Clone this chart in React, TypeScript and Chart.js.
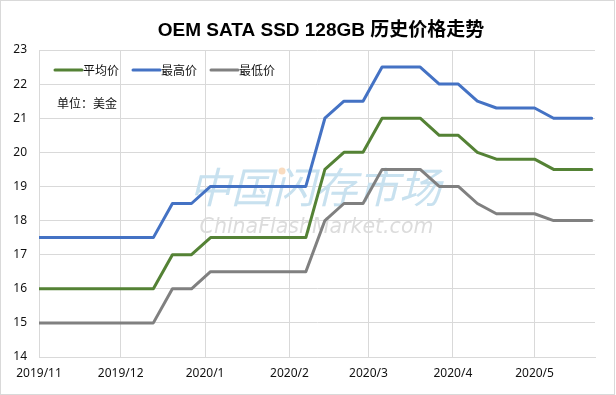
import React, { useEffect, useRef } from 'react';
import { Chart, registerables } from 'chart.js';

Chart.register(...registerables);

const title = 'OEM SATA SSD 128GB 历史价格走势';
const unitText = '单位：美金';
const watermarkCN = '中国闪存市场';
const watermarkEN = 'ChinaFlashMarket.com';

const dates = [
  '2019-11-01', '2019-11-08', '2019-11-15', '2019-11-22', '2019-11-29',
  '2019-12-06', '2019-12-13', '2019-12-20', '2019-12-27',
  '2020-01-03', '2020-01-10', '2020-01-17', '2020-01-24', '2020-01-31',
  '2020-02-07', '2020-02-14', '2020-02-21', '2020-02-28',
  '2020-03-06', '2020-03-13', '2020-03-20', '2020-03-27',
  '2020-04-03', '2020-04-10', '2020-04-17', '2020-04-24',
  '2020-05-01', '2020-05-08', '2020-05-15', '2020-05-22',
];

const avgPrice = [
  16, 16, 16, 16, 16, 16, 16, 17, 17,
  17.5, 17.5, 17.5, 17.5, 17.5, 17.5, 19.5, 20, 20,
  21, 21, 21, 20.5, 20.5, 20, 19.8, 19.8, 19.8, 19.5, 19.5, 19.5,
];
const maxPrice = [
  17.5, 17.5, 17.5, 17.5, 17.5, 17.5, 17.5, 18.5, 18.5,
  19, 19, 19, 19, 19, 19, 21, 21.5, 21.5,
  22.5, 22.5, 22.5, 22, 22, 21.5, 21.3, 21.3, 21.3, 21, 21, 21,
];
const minPrice = [
  15, 15, 15, 15, 15, 15, 15, 16, 16,
  16.5, 16.5, 16.5, 16.5, 16.5, 16.5, 18, 18.5, 18.5,
  19.5, 19.5, 19.5, 19, 19, 18.5, 18.2, 18.2, 18.2, 18, 18, 18,
];

const seriesNames = ['平均价', '最高价', '最低价'];
const seriesColors = ['#548235', '#4472c4', '#808080'];

const monthTickDates = ['2019-11-01', '2019-12-01', '2020-01-01', '2020-02-01', '2020-03-01', '2020-04-01', '2020-05-01'];
const monthTickLabels = ['2019/11', '2019/12', '2020/1', '2020/2', '2020/3', '2020/4', '2020/5'];
const axisEndDate = '2020-05-23';
const yMin = 14;
const yMax = 23;

const DAY = 86400000;
const ORIGIN = Date.UTC(2019, 10, 1);
const dayOf = (s: string) => {
  const [y, m, d] = s.split('-').map(Number);
  return Math.round((Date.UTC(y, m - 1, d) - ORIGIN) / DAY);
};

const CJK = '"Noto Sans CJK SC"';
const GRID = '#d9d9d9';
const TEXT = '#111111';

const decorPlugin = {
  id: 'decor',
  beforeDraw(chart: any) {
    const ctx = chart.ctx;
    ctx.save();
    ctx.fillStyle = '#ffffff';
    ctx.fillRect(0, 0, chart.width, chart.height);
    ctx.strokeStyle = GRID;
    ctx.lineWidth = 1;
    ctx.strokeRect(0.5, 0.5, chart.width - 2, chart.height - 1);
    ctx.restore();
  },
  beforeDatasetsDraw(chart: any) {
    const ctx = chart.ctx;
    ctx.save();
    ctx.textAlign = 'center';
    ctx.textBaseline = 'middle';
    ctx.fillStyle = '#c8e1ef';
    ctx.font = `italic 400 42px ${CJK}`;
    ctx.fillText(watermarkCN, 315, 187);
    ctx.fillStyle = '#f9dcc0';
    ctx.beginPath();
    ctx.arc(282, 171, 3.5, 0, Math.PI * 2);
    ctx.fill();
    ctx.fillStyle = '#dcdcdc';
    ctx.textBaseline = 'alphabetic';
    ctx.font = 'italic 20.5px "DejaVu Sans"';
    ctx.fillText(watermarkEN, 316.5, 233);
    ctx.restore();
  },
  afterDraw(chart: any) {
    const ctx = chart.ctx;
    ctx.save();
    ctx.fillStyle = '#000000';
    ctx.textAlign = 'center';
    ctx.textBaseline = 'alphabetic';
    ctx.font = `bold 19px "Liberation Sans", ${CJK}`;
    ctx.fillText(title, 321, 36);
    const legendX = [54, 132, 210];
    ctx.font = `12px ${CJK}`;
    ctx.textAlign = 'left';
    ctx.textBaseline = 'middle';
    seriesNames.forEach((name, i) => {
      ctx.strokeStyle = seriesColors[i];
      ctx.lineWidth = 3;
      ctx.lineCap = 'round';
      ctx.beginPath();
      ctx.moveTo(legendX[i] + 1, 70);
      ctx.lineTo(legendX[i] + 28, 70);
      ctx.stroke();
      ctx.fillStyle = TEXT;
      ctx.fillText(name, legendX[i] + 29, 70);
    });
    ctx.fillText(unitText, 57, 103);
    ctx.restore();
  },
};

export default function App() {
  const canvasRef = useRef<HTMLCanvasElement | null>(null);

  useEffect(() => {
    document.body.style.margin = '0';
    const canvas = canvasRef.current;
    if (!canvas) return;
    const xs = dates.map(dayOf);
    const mk = (vals: number[], i: number) => ({
      label: seriesNames[i],
      data: vals.map((v, k) => ({ x: xs[k], y: v })),
      borderColor: seriesColors[i],
      backgroundColor: seriesColors[i],
      borderWidth: 3,
      pointRadius: 0,
      tension: 0,
      borderJoinStyle: 'round' as const,
      borderCapStyle: 'round' as const,
    });
    const tickValues = monthTickDates.map(dayOf);
    const chart = new Chart(canvas, {
      type: 'line',
      data: {
        datasets: [mk(minPrice, 2), mk(avgPrice, 0), mk(maxPrice, 1)],
      },
      plugins: [decorPlugin],
      options: {
        animation: false,
        responsive: false,
        maintainAspectRatio: false,
        devicePixelRatio: 1,
        layout: { padding: { top: 50, right: 21, left: 0, bottom: 0 } },
        plugins: {
          legend: { display: false },
          title: { display: false },
          tooltip: { enabled: false },
        },
        scales: {
          x: {
            type: 'linear',
            min: 0,
            max: dayOf(axisEndDate) + 0.2,
            afterBuildTicks: (scale: any) => {
              scale.ticks = tickValues.map((v) => ({ value: v }));
            },
            afterFit: (scale: any) => {
              scale.height = 38;
            },
            ticks: {
              autoSkip: false,
              maxRotation: 0,
              padding: 9,
              color: TEXT,
              font: { family: '"Noto Sans"', size: 12 },
              callback: (_v: any, i: number) => monthTickLabels[i],
            },
            grid: { color: GRID, lineWidth: 1, drawTicks: false },
            border: { display: true, color: GRID, width: 1 },
          },
          y: {
            type: 'linear',
            min: yMin,
            max: yMax,
            afterFit: (scale: any) => {
              scale.width = 39;
            },
            ticks: {
              stepSize: 1,
              padding: 12,
              color: TEXT,
              font: { family: '"Noto Sans"', size: 12 },
            },
            grid: { color: GRID, lineWidth: 1, drawTicks: false },
            border: { display: true, color: GRID, width: 1 },
          },
        },
      },
    });
    return () => chart.destroy();
  }, []);

  return (
    <div style={{ position: 'absolute', left: 0, top: 0, width: 616, height: 395 }}>
      <canvas ref={canvasRef} width={616} height={395} style={{ width: 616, height: 395, display: 'block' }} />
    </div>
  );
}
